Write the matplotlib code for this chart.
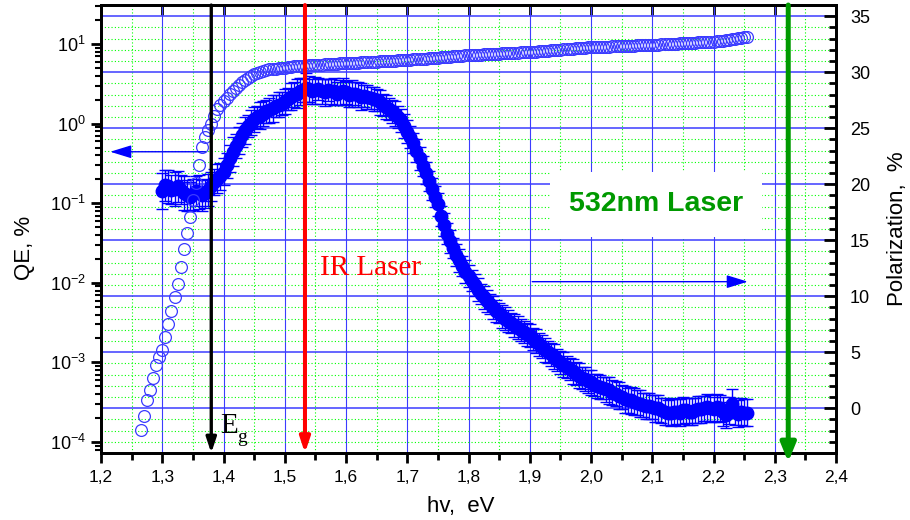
import numpy as np
import matplotlib.pyplot as plt
from matplotlib.ticker import MultipleLocator, FuncFormatter, LogLocator, NullLocator

plt.rcParams['font.family'] = 'Liberation Sans'
plt.rcParams['mathtext.fontset'] = 'custom'
plt.rcParams['mathtext.rm'] = 'Liberation Sans'
plt.rcParams['mathtext.default'] = 'regular'

# quantum efficiency (open circles, left log axis), QE in %
qe_hv = [1.265, 1.270, 1.275, 1.280, 1.285, 1.290, 1.295, 1.300, 1.305, 1.310,
         1.315, 1.320, 1.325, 1.330, 1.335, 1.340, 1.345, 1.350, 1.355, 1.360,
         1.365, 1.370, 1.375, 1.380, 1.385, 1.390, 1.395, 1.400, 1.405, 1.410,
         1.415, 1.420, 1.425, 1.430, 1.435, 1.440, 1.445, 1.450, 1.455, 1.460,
         1.465, 1.470, 1.475, 1.480, 1.485, 1.490, 1.495, 1.500, 1.505, 1.510,
         1.515, 1.520, 1.525, 1.530, 1.535, 1.540, 1.545, 1.550, 1.555, 1.560,
         1.565, 1.570, 1.575, 1.580, 1.585, 1.590, 1.595, 1.600, 1.605, 1.610,
         1.615, 1.620, 1.625, 1.630, 1.635, 1.640, 1.645, 1.650, 1.655, 1.660,
         1.665, 1.670, 1.675, 1.680, 1.685, 1.690, 1.695, 1.700, 1.705, 1.710,
         1.715, 1.720, 1.725, 1.730, 1.735, 1.740, 1.745, 1.750, 1.755, 1.760,
         1.765, 1.770, 1.775, 1.780, 1.785, 1.790, 1.795, 1.800, 1.805, 1.810,
         1.815, 1.820, 1.825, 1.830, 1.835, 1.840, 1.845, 1.850, 1.855, 1.860,
         1.865, 1.870, 1.875, 1.880, 1.885, 1.890, 1.895, 1.900, 1.905, 1.910,
         1.915, 1.920, 1.925, 1.930, 1.935, 1.940, 1.945, 1.950, 1.955, 1.960,
         1.965, 1.970, 1.975, 1.980, 1.985, 1.990, 1.995, 2.000, 2.005, 2.010,
         2.015, 2.020, 2.025, 2.030, 2.035, 2.040, 2.045, 2.050, 2.055, 2.060,
         2.065, 2.070, 2.075, 2.080, 2.085, 2.090, 2.095, 2.100, 2.105, 2.110,
         2.115, 2.120, 2.125, 2.130, 2.135, 2.140, 2.145, 2.150, 2.155, 2.160,
         2.165, 2.170, 2.175, 2.180, 2.185, 2.190, 2.195, 2.200, 2.205, 2.210,
         2.215, 2.220, 2.225, 2.230, 2.235, 2.240, 2.245, 2.250, 2.255]
qe_val = [1.41e-4, 2.14e-4, 3.39e-4, 4.57e-4, 6.31e-4, 9.33e-4, 1.17e-3, 1.45e-3, 2.09e-3, 3.02e-3,
          4.47e-3, 6.61e-3, 9.55e-3, 0.0158, 0.0263, 0.0427, 0.0676, 0.110, 0.178, 0.302,
          0.513, 0.676, 0.832, 1.00, 1.23, 1.51, 1.70, 1.91, 2.09, 2.34,
          2.57, 2.82, 3.09, 3.35, 3.55, 3.76, 3.98, 4.17, 4.37, 4.47,
          4.57, 4.68, 4.79, 4.84, 4.90, 4.95, 5.01, 5.07, 5.13, 5.19,
          5.25, 5.28, 5.30, 5.34, 5.37, 5.39, 5.40, 5.45, 5.50, 5.52,
          5.55, 5.59, 5.62, 5.65, 5.68, 5.72, 5.75, 5.76, 5.78, 5.81,
          5.84, 5.86, 5.89, 5.92, 5.95, 5.97, 6.00, 6.03, 6.06, 6.09,
          6.12, 6.14, 6.17, 6.20, 6.23, 6.25, 6.28, 6.31, 6.35, 6.40,
          6.44, 6.49, 6.53, 6.58, 6.62, 6.67, 6.71, 6.76, 6.80, 6.85,
          6.90, 6.95, 6.99, 7.04, 7.09, 7.14, 7.19, 7.24, 7.28, 7.32,
          7.35, 7.39, 7.42, 7.46, 7.49, 7.53, 7.56, 7.60, 7.63, 7.67,
          7.70, 7.74, 7.77, 7.81, 7.84, 7.88, 7.91, 7.94, 8.00, 8.06,
          8.11, 8.17, 8.22, 8.28, 8.34, 8.40, 8.45, 8.51, 8.57, 8.63,
          8.69, 8.75, 8.81, 8.87, 8.93, 9.00, 9.06, 9.12, 9.15, 9.18,
          9.21, 9.25, 9.28, 9.31, 9.34, 9.38, 9.41, 9.44, 9.47, 9.51,
          9.54, 9.58, 9.61, 9.65, 9.68, 9.71, 9.74, 9.77, 9.82, 9.86,
          9.91, 9.95, 10.0, 10.05, 10.1, 10.15, 10.2, 10.25, 10.3, 10.35,
          10.4, 10.45, 10.5, 10.55, 10.6, 10.65, 10.7, 10.75, 10.8, 10.9,
          11.0, 11.15, 11.3, 11.45, 11.6, 11.75, 11.9, 12.1, 12.3]

# polarization (filled circles with error bars, right axis), %
pol_hv = [1.300, 1.305, 1.310, 1.315, 1.320, 1.325, 1.330, 1.335, 1.340, 1.345,
          1.350, 1.355, 1.360, 1.365, 1.370, 1.375, 1.380, 1.385, 1.390, 1.395,
          1.400, 1.405, 1.410, 1.415, 1.420, 1.425, 1.430, 1.435, 1.440, 1.445,
          1.450, 1.455, 1.460, 1.465, 1.470, 1.475, 1.480, 1.485, 1.490, 1.495,
          1.500, 1.505, 1.510, 1.515, 1.520, 1.525, 1.530, 1.535, 1.540, 1.545,
          1.550, 1.555, 1.560, 1.565, 1.570, 1.575, 1.580, 1.585, 1.590, 1.595,
          1.600, 1.605, 1.610, 1.615, 1.620, 1.625, 1.630, 1.635, 1.640, 1.645,
          1.650, 1.655, 1.660, 1.665, 1.670, 1.675, 1.680, 1.685, 1.690, 1.695,
          1.700, 1.705, 1.710, 1.715, 1.720, 1.725, 1.730, 1.735, 1.740, 1.745,
          1.750, 1.755, 1.760, 1.765, 1.770, 1.775, 1.780, 1.785, 1.790, 1.795,
          1.800, 1.805, 1.810, 1.815, 1.820, 1.825, 1.830, 1.835, 1.840, 1.845,
          1.850, 1.855, 1.860, 1.865, 1.870, 1.875, 1.880, 1.885, 1.890, 1.895,
          1.900, 1.905, 1.910, 1.915, 1.920, 1.925, 1.930, 1.935, 1.940, 1.945,
          1.950, 1.955, 1.960, 1.965, 1.970, 1.975, 1.980, 1.985, 1.990, 1.995,
          2.000, 2.005, 2.010, 2.015, 2.020, 2.025, 2.030, 2.035, 2.040, 2.045,
          2.050, 2.055, 2.060, 2.065, 2.070, 2.075, 2.080, 2.085, 2.090, 2.095,
          2.100, 2.105, 2.110, 2.115, 2.120, 2.125, 2.130, 2.135, 2.140, 2.145,
          2.150, 2.155, 2.160, 2.165, 2.170, 2.175, 2.180, 2.185, 2.190, 2.195,
          2.200, 2.205, 2.210, 2.215, 2.220, 2.225, 2.230, 2.235, 2.240, 2.245,
          2.250, 2.255]
pol_val = [19.4, 19.9, 19.8, 19.5, 19.6, 19.8, 19.5, 19.2, 19.0, 18.9,
           19.1, 19.4, 19.3, 19.0, 19.2, 19.5, 19.8, 20.2, 20.5, 20.7,
           21.1, 21.7, 22.3, 22.9, 23.4, 23.9, 24.4, 24.8, 25.2, 25.5,
           25.8, 26.0, 26.1, 26.3, 26.5, 26.6, 26.8, 27.0, 27.1, 27.2,
           27.4, 27.6, 27.8, 28.0, 28.1, 28.3, 28.4, 28.6, 28.5, 28.3,
           28.4, 28.5, 28.3, 28.2, 28.4, 28.3, 28.3, 28.1, 28.2, 28.3,
           28.2, 28.0, 28.1, 28.1, 28.0, 27.8, 27.9, 27.8, 27.7, 27.6,
           27.5, 27.3, 27.1, 26.9, 26.7, 26.5, 26.3, 26.0, 25.7, 25.2,
           24.7, 24.2, 23.7, 23.0, 22.3, 21.6, 21.0, 20.3, 19.6, 18.9,
           18.2, 17.2, 16.4, 15.6, 14.9, 14.3, 13.7, 13.2, 12.7, 12.2,
           11.8, 11.4, 11.0, 10.6, 10.2, 9.9, 9.6, 9.3, 9.0, 8.7,
           8.5, 8.2, 8.0, 7.8, 7.6, 7.4, 7.2, 7.0, 6.8, 6.6,
           6.5, 6.2, 6.0, 5.7, 5.5, 5.2, 5.0, 4.8, 4.6, 4.3,
           4.1, 3.9, 3.7, 3.5, 3.3, 3.1, 2.9, 2.7, 2.6, 2.4,
           2.3, 2.1, 2.0, 1.9, 1.8, 1.7, 1.6, 1.4, 1.3, 1.1,
           1.0, 0.8, 0.7, 0.7, 0.6, 0.5, 0.4, 0.3, 0.2, 0.2,
           0.1, 0.0, 0.0, -0.2, -0.3, -0.4, -0.4, -0.3, -0.3, -0.4,
           -0.2, -0.2, -0.3, -0.3, -0.2, -0.1, -0.1, 0.0, 0.1, 0.0,
           -0.1, 0.1, 0.0, -0.3, -0.6, -0.2, 0.4, -0.3, -0.5, -0.3,
           -0.4, -0.4]
pol_err = [1.6, 1.4, 1.5, 1.3, 1.5, 1.4, 1.3, 1.5, 1.4, 1.3,
           1.4, 1.3, 1.5, 1.4, 1.3, 1.4, 1.3, 1.2, 1.3, 1.2,
           1.2, 1.1, 1.2, 1.3, 1.1, 1.2, 1.1, 1.2, 1.0, 1.1,
           1.1, 1.0, 1.2, 1.1, 1.0, 1.1, 1.2, 1.0, 1.1, 1.0,
           1.1, 1.0, 1.2, 1.1, 1.3, 1.2, 1.1, 1.3, 1.2, 1.1,
           1.2, 1.0, 1.1, 1.2, 1.0, 1.1, 1.2, 1.0, 1.1, 1.2,
           1.0, 1.1, 1.2, 1.0, 1.1, 1.2, 1.0, 1.1, 1.0, 1.1,
           1.0, 1.1, 1.0, 1.1, 1.0, 1.0, 1.1, 1.0, 1.0, 1.1,
           1.0, 1.0, 0.9, 1.0, 1.0, 0.9, 1.0, 0.9, 1.0, 0.9,
           1.0, 0.9, 1.0, 0.9, 1.0, 0.9, 1.0, 1.0, 0.9, 1.0,
           1.0, 0.9, 1.0, 1.0, 0.9, 1.0, 1.0, 0.9, 1.0, 1.0,
           0.9, 1.0, 1.0, 1.0, 0.9, 1.0, 1.0, 1.0, 1.0, 1.0,
           1.0, 1.0, 1.1, 1.0, 1.0, 1.1, 1.0, 1.0, 1.1, 1.0,
           1.0, 1.1, 1.0, 1.0, 1.1, 1.0, 1.1, 1.0, 1.1, 1.0,
           1.1, 1.0, 1.1, 1.1, 1.0, 1.1, 1.2, 1.1, 1.1, 1.2,
           1.1, 1.2, 1.1, 1.2, 1.2, 1.1, 1.2, 1.1, 1.2, 1.2,
           1.1, 1.2, 1.2, 1.1, 1.2, 1.1, 1.2, 1.2, 1.1, 1.2,
           1.2, 1.1, 1.2, 1.2, 1.1, 1.2, 1.2, 1.1, 1.2, 1.2,
           1.1, 1.2, 1.2, 1.3, 1.2, 1.2, 1.3, 1.2, 1.2, 1.2,
           1.2, 1.2]

eg_hv = 1.38
ir_hv = 1.533
green_hv = 2.322

grid_blue = '#3c3cff'
grid_green = '#00ff00'
green = '#009900'

fig = plt.figure(figsize=(9.1, 5.2), dpi=100)
ax = fig.add_axes([0.111, 0.1288, 0.8077, 0.8615])
axq = ax.twinx()

# polarization axis lives on the right, QE axis on the left
ax.yaxis.tick_right()
ax.yaxis.set_label_position('right')
axq.yaxis.tick_left()
axq.yaxis.set_label_position('left')

ax.set_xlim(1.2, 2.4)
ax.set_ylim(-4.0, 36.0)
axq.set_yscale('log')
axq.set_ylim(7.28e-5, 30.9)

ax.xaxis.set_major_locator(MultipleLocator(0.1))
ax.xaxis.set_minor_locator(MultipleLocator(0.05))
ax.xaxis.set_major_formatter(FuncFormatter(lambda v, p: f'{v:.1f}'.replace('.', ',')))
ax.yaxis.set_major_locator(MultipleLocator(5))
ax.yaxis.set_minor_locator(MultipleLocator(1))
axq.yaxis.set_major_locator(LogLocator(base=10, numticks=12))
axq.yaxis.set_minor_locator(LogLocator(base=10, subs=np.arange(2, 10), numticks=12))

ax.set_axisbelow(True)
ax.grid(which='major', axis='x', color=grid_blue, lw=0.8)
ax.grid(which='major', axis='y', color=grid_blue, lw=1.1)
ax.grid(which='minor', color=grid_green, lw=0.8, linestyle=(0, (1, 2)))

ax.tick_params(axis='x', which='major', direction='out', length=7, width=2, labelsize=12.5, pad=5, top=False)
ax.tick_params(axis='x', which='minor', direction='out', length=5, width=2, top=False)
ax.tick_params(axis='y', which='major', direction='in', length=9, width=2, labelsize=13, pad=10)
ax.tick_params(axis='y', which='minor', direction='in', length=5, width=2)
axq.tick_params(axis='y', which='major', direction='out', length=7, width=2, labelsize=13, pad=4)
axq.tick_params(axis='y', which='minor', direction='out', length=4, width=1.5)

sec = ax.secondary_xaxis('top')
sec.xaxis.set_major_locator(MultipleLocator(0.1))
sec.xaxis.set_minor_locator(NullLocator())
sec.tick_params(direction='in', length=7, width=2, labeltop=False)

for a in (ax, axq, sec):
    for s in a.spines.values():
        s.set_linewidth(2)

ax.errorbar(pol_hv, pol_val, yerr=pol_err, fmt='o', color='#0000ff', ms=9,
            capsize=4.5, elinewidth=1, capthick=1, zorder=3)
axq.plot(qe_hv, qe_val, 'o', mfc='none', mec='#3a3aff', ms=8.5, mew=0.9)

# vertical laser / band gap arrows
for xv, col, lw, hw, hl, tip in [(eg_hv, 'black', 2.4, 0.3, 0.9, 0.0),
                                 (ir_hv, '#ff0000', 2.9, 0.3, 0.9, 0.0),
                                 (green_hv, green, 3.6, 0.45, 1.1, -0.02)]:
    axq.annotate('', xy=(xv, tip), xycoords=('data', 'axes fraction'),
                 xytext=(xv, 1.0), textcoords=('data', 'axes fraction'),
                 arrowprops=dict(arrowstyle=f'-|>,head_width={hw},head_length={hl}',
                                 color=col, lw=lw, shrinkA=0, shrinkB=0,
                                 mutation_scale=10), annotation_clip=False)

# axis pointer arrows
axq.annotate('', xy=(1.215, 22.9), xycoords=ax.transData,
             xytext=(1.370, 22.9), textcoords=ax.transData,
             arrowprops=dict(arrowstyle='-|>,head_width=0.4,head_length=1.3',
                             color='#0000ff', lw=1.0, shrinkA=0, shrinkB=0, mutation_scale=10))
axq.annotate('', xy=(2.256, 11.3), xycoords=ax.transData,
             xytext=(1.904, 11.3), textcoords=ax.transData,
             arrowprops=dict(arrowstyle='-|>,head_width=0.4,head_length=1.3',
                             color='#0000ff', lw=1.0, shrinkA=0, shrinkB=0, mutation_scale=10))

ax.text(1.394, -2.24, 'E', family='Liberation Serif', fontsize=21, color='black',
        ha='left', va='baseline', zorder=6)
ax.text(1.422, -3.05, 'g', family='Liberation Serif', fontsize=14, color='black',
        ha='left', va='baseline', zorder=6)
ax.text(1.5576, 11.9, 'IR Laser', family='Liberation Serif', fontsize=21, color='#ff0000',
        ha='left', va='baseline', zorder=6)
ax.text(2.106, 18.2, '532nm Laser', fontsize=20.5, fontweight='bold', color=green,
        ha='center', va='center', zorder=6,
        bbox=dict(facecolor='white', edgecolor='none', pad=14))

ax.set_xlabel('hv,  eV', fontsize=16)
ax.xaxis.set_label_coords(0.49, -0.095)
axq.set_ylabel('QE, %', fontsize=16)
axq.yaxis.set_label_coords(-0.09, 0.458)
ax.set_ylabel('Polarization,  %', fontsize=16)
ax.yaxis.set_label_coords(1.069, 0.5)

fig.savefig('out.png', dpi=100)
